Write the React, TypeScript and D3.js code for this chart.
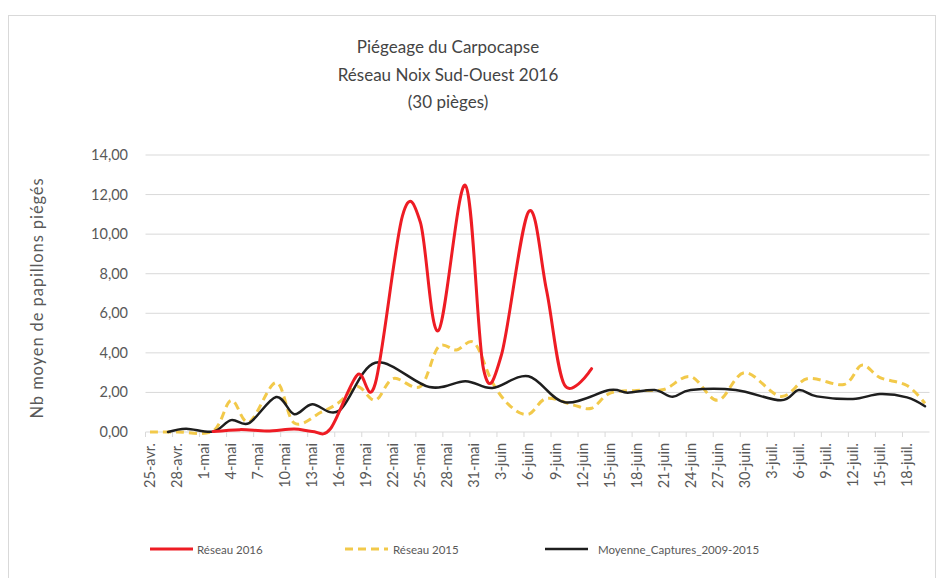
import React from "react";
import * as d3 from "d3";

const START = "2016-04-25";
const N_DAYS = 87;
const monthNames = ["janv.", "févr.", "mars", "avr.", "mai", "juin", "juil.", "août", "sept.", "oct.", "nov.", "déc."];

const xTickLabels = [
  "25-avr.", "28-avr.", "1-mai", "4-mai", "7-mai", "10-mai", "13-mai", "16-mai", "19-mai", "22-mai",
  "25-mai", "28-mai", "31-mai", "3-juin", "6-juin", "9-juin", "12-juin", "15-juin", "18-juin", "21-juin",
  "24-juin", "27-juin", "30-juin", "3-juil.", "6-juil.", "9-juil.", "12-juil.", "15-juil.", "18-juil.",
];
const yTicks = [0, 2, 4, 6, 8, 10, 12, 14];

const reseau2016Dates = ["2-mai", "5-mai", "8-mai", "11-mai", "13-mai", "15-mai", "18-mai", "20-mai", "23-mai", "25-mai", "27-mai", "30-mai", "1-juin", "3-juin", "6-juin", "8-juin", "10-juin", "13-juin"];
const reseau2016Values = [0.02, 0.12, 0.05, 0.15, 0.03, 0.15, 2.88, 2.45, 10.9, 10.6, 5.12, 12.47, 3.2, 3.9, 11.13, 7.17, 2.37, 3.2];

const reseau2015Dates = ["25-avr.", "28-avr.", "2-mai", "4-mai", "6-mai", "9-mai", "11-mai", "14-mai", "16-mai", "18-mai", "20-mai", "22-mai", "25-mai", "27-mai", "29-mai", "31-mai", "2-juin", "4-juin", "6-juin", "8-juin", "11-juin", "13-juin", "15-juin", "18-juin", "21-juin", "24-juin", "27-juin", "30-juin", "4-juil.", "7-juil.", "11-juil.", "13-juil.", "15-juil.", "18-juil.", "20-juil."];
const reseau2015Values = [0, 0, 0.05, 1.6, 0.5, 2.5, 0.45, 1.0, 1.5, 2.3, 1.6, 2.7, 2.3, 4.3, 4.15, 4.5, 2.5, 1.3, 0.9, 1.7, 1.36, 1.2, 1.95, 2.1, 2.15, 2.8, 1.6, 3.0, 1.8, 2.7, 2.4, 3.38, 2.75, 2.35, 1.45];

const moyenneDates = ["27-avr.", "29-avr.", "2-mai", "4-mai", "6-mai", "9-mai", "11-mai", "13-mai", "16-mai", "20-mai", "26-mai", "30-mai", "2-juin", "6-juin", "10-juin", "15-juin", "17-juin", "20-juin", "22-juin", "24-juin", "29-juin", "4-juil.", "6-juil.", "8-juil.", "12-juil.", "15-juil.", "18-juil.", "20-juil."];
const moyenneValues = [0.0, 0.17, 0.02, 0.6, 0.45, 1.77, 0.9, 1.4, 1.08, 3.5, 2.27, 2.57, 2.22, 2.82, 1.5, 2.12, 1.99, 2.12, 1.78, 2.12, 2.12, 1.6, 2.12, 1.8, 1.67, 1.92, 1.75, 1.3];

const titleLines = ["Piégeage du Carpocapse", "Réseau Noix Sud-Ouest 2016", "(30 pièges)"];
const yTitle = "Nb moyen de papillons piégés";

const FONT = "Lato, 'Open Sans', sans-serif";
const TXT = "#595959";

const start = d3.timeParse("%Y-%m-%d")(START) as Date;
const categories = d3.range(N_DAYS).map((i) => {
  const d = d3.timeDay.offset(start, i);
  return `${d.getDate()}-${monthNames[d.getMonth()]}`;
});

export default function App() {
  const W = 937, H = 578;
  const left = 145.5, right = 929.5, top = 155, bottom = 432;
  const x = d3.scalePoint<string>().domain(categories).range([left, right]).padding(0.5);
  const y = d3.scaleLinear().domain([0, 14]).range([bottom, top]);
  const step = x.step();

  const mk = (dates: string[], vals: number[]) =>
    d3.line<[string, number]>()
      .x((d) => x(d[0]) as number)
      .y((d) => y(d[1]))
      .curve(d3.curveCardinal.tension(0))(dates.map((dt, i) => [dt, vals[i]] as [string, number])) as string;

  const series = [
    { name: "Réseau 2016", path: mk(reseau2016Dates, reseau2016Values), color: "#ee1c24", width: 3, dash: undefined as string | undefined, lx: 150, tx: 197 },
    { name: "Réseau 2015", path: mk(reseau2015Dates, reseau2015Values), color: "#f2c94a", width: 3, dash: "8,5", lx: 345, tx: 393 },
    { name: "Moyenne_Captures_2009-2015", path: mk(moyenneDates, moyenneValues), color: "#1e1e1e", width: 2.5, dash: undefined, lx: 545, tx: 598 },
  ];
  const order = [series[1], series[2], series[0]];

  return (
    <svg width={W} height={H} style={{ position: "absolute", left: 0, top: 0, background: "#fff" }} fontFamily={FONT}>
      <rect x={8.5} y={15.5} width={927} height={600} fill="#fff" stroke="#d9d9d9" />
      {titleLines.map((t, i) => (
        <text key={i} x={448} y={53 + i * 27.5} textAnchor="middle" fontSize={17} fill="#444">{t}</text>
      ))}
      {yTicks.slice(1).map((v) => (
        <line key={v} x1={left} x2={right} y1={y(v)} y2={y(v)} stroke="#d9d9d9" strokeWidth={1} />
      ))}
      {yTicks.map((v) => (
        <text key={v} x={128} y={y(v) + 5} textAnchor="end" fontSize={14.5} fill={TXT}>
          {d3.format(".2f")(v).replace(".", ",")}
        </text>
      ))}
      <line x1={left} x2={right} y1={bottom} y2={bottom} stroke="#d9d9d9" />
      {xTickLabels.map((lab) => {
        const cx = x(lab) as number;
        return (
          <g key={lab}>
            <line x1={cx - step / 2} x2={cx - step / 2} y1={bottom} y2={bottom + 5} stroke="#d9d9d9" />
            <text transform={`translate(${cx + 5},${443}) rotate(-90)`} textAnchor="end" fontSize={14.5} fill={TXT}>{lab}</text>
          </g>
        );
      })}
      <text transform={`translate(43,298) rotate(-90)`} textAnchor="middle" fontSize={16.5} letterSpacing={0.9} fill={TXT}>{yTitle}</text>
      {order.map((s) => (
        <path key={s.name} d={s.path} fill="none" stroke={s.color} strokeWidth={s.width} strokeDasharray={s.dash} strokeLinejoin="round" strokeLinecap={s.dash ? "butt" : "round"} />
      ))}
      {series.map((s) => (
        <g key={s.name}>
          <line x1={s.lx} x2={s.lx + 43} y1={549} y2={549} stroke={s.color} strokeWidth={s.width} strokeDasharray={s.dash} />
          <text x={s.tx} y={553.5} fontSize={11.5} fill={TXT}>{s.name}</text>
        </g>
      ))}
    </svg>
  );
}
